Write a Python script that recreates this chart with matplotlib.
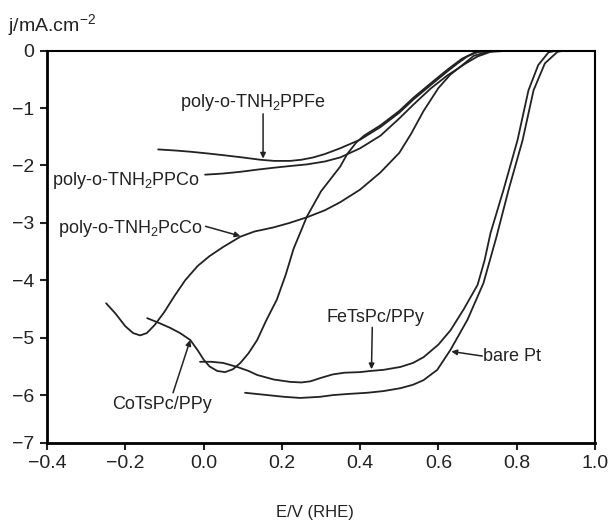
import matplotlib
matplotlib.use("Agg")
import matplotlib.pyplot as plt

plt.rcParams['font.family'] = ['Liberation Sans', 'DejaVu Sans']
plt.rcParams['mathtext.default'] = 'regular'

# curves: E/V (RHE) vs j/mA cm-2
ppfe_x = [-0.116, -0.07, -0.034, 0.01, 0.05, 0.10, 0.145, 0.18, 0.221, 0.25, 0.28, 0.31, 0.349,
          0.40, 0.452, 0.50, 0.536, 0.58, 0.623, 0.649, 0.674, 0.70, 0.75]
ppfe_y = [-1.72, -1.74, -1.76, -1.79, -1.82, -1.86, -1.90, -1.92, -1.92, -1.90, -1.86, -1.80, -1.70,
          -1.55, -1.33, -1.08, -0.85, -0.60, -0.36, -0.22, -0.10, -0.02, 0.0]

ppco_x = [0.004, 0.05, 0.094, 0.14, 0.178, 0.22, 0.265, 0.31, 0.349, 0.40, 0.452, 0.50, 0.536,
          0.58, 0.623, 0.67, 0.70, 0.733, 0.78]
ppco_y = [-2.16, -2.14, -2.11, -2.07, -2.04, -2.01, -1.98, -1.93, -1.86, -1.70, -1.48, -1.18, -0.94,
          -0.66, -0.43, -0.22, -0.10, -0.02, 0.0]

pcco_x = [-0.249, -0.225, -0.20, -0.18, -0.162, -0.145, -0.125, -0.10, -0.075, -0.047, -0.015,
          0.015, 0.05, 0.094, 0.13, 0.178, 0.22, 0.265, 0.31, 0.349, 0.40, 0.452, 0.50, 0.53,
          0.562, 0.60, 0.63, 0.656, 0.69, 0.73, 0.78]
pcco_y = [-4.40, -4.58, -4.80, -4.92, -4.96, -4.92, -4.78, -4.55, -4.28, -4.00, -3.75,
          -3.58, -3.42, -3.24, -3.15, -3.08, -3.00, -2.90, -2.78, -2.64, -2.42, -2.12, -1.78, -1.45,
          -1.05, -0.65, -0.42, -0.28, -0.09, -0.01, 0.0]

cotspc_x = [-0.144, -0.115, -0.085, -0.06, -0.034, -0.015, 0.0, 0.015, 0.035, 0.055, 0.075, 0.094,
            0.115, 0.137, 0.16, 0.187, 0.21, 0.23, 0.264, 0.30, 0.349, 0.367, 0.39, 0.41, 0.452,
            0.50, 0.536, 0.58, 0.623, 0.66, 0.69, 0.72]
cotspc_y = [-4.66, -4.74, -4.83, -4.92, -5.04, -5.22, -5.38, -5.50, -5.58, -5.60, -5.55, -5.44,
            -5.27, -5.04, -4.70, -4.34, -3.90, -3.45, -2.89, -2.45, -2.02, -1.80, -1.60, -1.48, -1.30,
            -1.05, -0.82, -0.57, -0.33, -0.14, -0.04, 0.0]

fetspc_x = [-0.009, 0.02, 0.05, 0.086, 0.115, 0.137, 0.18, 0.221, 0.25, 0.273, 0.30, 0.33, 0.36,
            0.40, 0.426, 0.46, 0.503, 0.535, 0.562, 0.60, 0.631, 0.665, 0.70, 0.718, 0.733, 0.766,
            0.802, 0.830, 0.855, 0.881, 0.90]
fetspc_y = [-5.42, -5.42, -5.44, -5.51, -5.58, -5.65, -5.73, -5.77, -5.78, -5.76, -5.70, -5.64, -5.61,
            -5.60, -5.58, -5.56, -5.51, -5.44, -5.34, -5.12, -4.87, -4.50, -4.08, -3.65, -3.18, -2.43,
            -1.56, -0.69, -0.25, -0.03, 0.0]

pt_x = [0.106, 0.163, 0.205, 0.247, 0.298, 0.331, 0.37, 0.418, 0.46, 0.503, 0.535, 0.562, 0.597,
        0.631, 0.674, 0.715, 0.748, 0.779, 0.815, 0.843, 0.872, 0.904, 0.92]
pt_y = [-5.96, -6.00, -6.03, -6.05, -6.03, -6.00, -5.98, -5.96, -5.93, -5.88, -5.82, -5.74, -5.56,
        -5.21, -4.69, -4.05, -3.25, -2.43, -1.56, -0.69, -0.22, -0.02, 0.0]

xticks = [-0.4, -0.2, 0.0, 0.2, 0.4, 0.6, 0.8, 1.0]
y_bottom = -6.835  # frame of the original ends a bit above -7
yticks = [0, -1, -2, -3, -4, -5, -6, y_bottom]
ytick_labels = ['0', '\u22121', '\u22122', '\u22123', '\u22124', '\u22125', '\u22126', '\u22127']

ink = '#222222'

fig = plt.figure(figsize=(6.1, 5.21), dpi=100)
ax = fig.add_axes([47 / 610, 1 - 443 / 521, 548 / 610, 392.3 / 521])

for xs, ys in [(ppfe_x, ppfe_y), (ppco_x, ppco_y), (pcco_x, pcco_y),
               (cotspc_x, cotspc_y), (fetspc_x, fetspc_y), (pt_x, pt_y)]:
    ax.plot(xs, ys, color=ink, lw=1.3, solid_capstyle='round', solid_joinstyle='round')

ax.set_xlim(-0.4, 1.0)
ax.set_ylim(y_bottom, 0)
ax.set_xticks(xticks)
ax.set_yticks(yticks, ytick_labels)
ax.tick_params(direction='out', length=5, width=1.5, labelsize=14, pad=4,
               colors=ink, top=False, right=False)
for side in ['left', 'bottom']:
    ax.spines[side].set_linewidth(2)
for side in ['top', 'right']:
    ax.spines[side].set_linewidth(1.5)

arrow = dict(arrowstyle='-|>', color=ink, lw=1.1, mutation_scale=8, shrinkA=0, shrinkB=0)
fs = 13

ax.text(0.127, -0.91, 'poly-o-TNH$_2$PPFe', fontsize=fs, ha='center', va='center', color=ink)
ax.annotate('', xy=(0.152, -1.88), xytext=(0.152, -1.10), arrowprops=arrow)

ax.text(-0.388, -2.26, 'poly-o-TNH$_2$PPCo', fontsize=fs, ha='left', va='center', color=ink)

ax.text(-0.373, -3.09, 'poly-o-TNH$_2$PcCo', fontsize=fs, ha='left', va='center', color=ink)
ax.annotate('', xy=(0.094, -3.23), xytext=(0.005, -3.06), arrowprops=arrow)

ax.text(-0.106, -6.17, 'CoTsPc/PPy', fontsize=fs, ha='center', va='center', color=ink)
ax.annotate('', xy=(-0.034, -5.04), xytext=(-0.078, -5.96), arrowprops=arrow)

ax.text(0.439, -4.64, 'FeTsPc/PPy', fontsize=fs, ha='center', va='center', color=ink)
ax.annotate('', xy=(0.429, -5.55), xytext=(0.431, -4.82), arrowprops=arrow)

ax.text(0.714, -5.32, 'bare Pt', fontsize=fs, ha='left', va='center', color=ink)
ax.annotate('', xy=(0.633, -5.24), xytext=(0.712, -5.32), arrowprops=arrow)

fig.text(8 / 610, 1 - 25 / 521, 'j/mA.cm$^{-2}$', fontsize=14, ha='left', va='center', color=ink)
fig.text(315 / 610, 1 - 513 / 521, 'E/V (RHE)', fontsize=12, ha='center', va='center', color=ink)

fig.savefig('out.png', dpi=100)
